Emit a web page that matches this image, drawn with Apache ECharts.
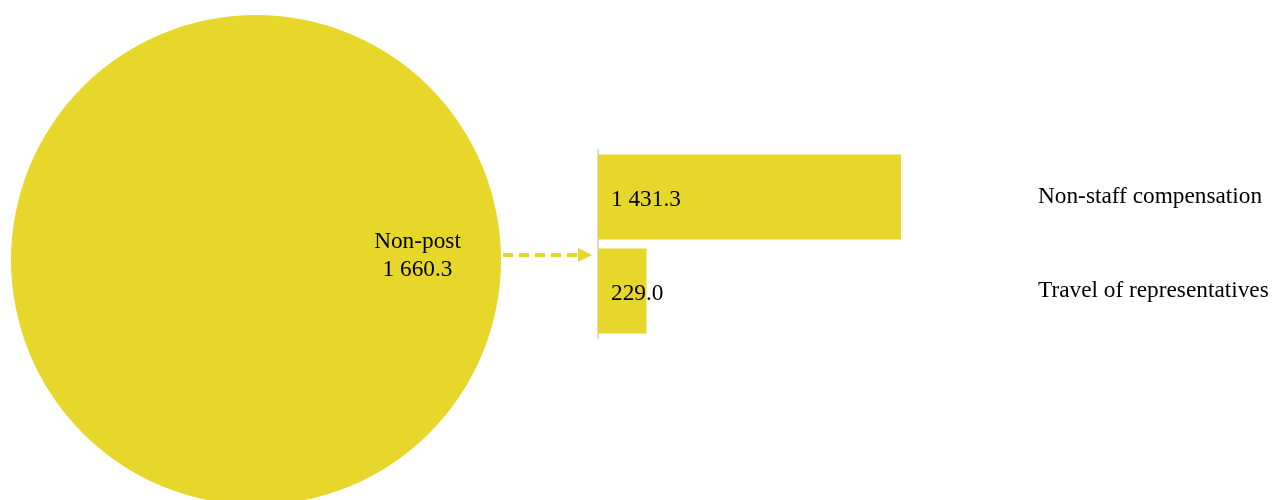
<!DOCTYPE html>
<html><head><meta charset="utf-8">
<script src="https://cdn.jsdelivr.net/npm/echarts@6/dist/echarts.min.js"></script>
<style>html,body{margin:0;padding:0;background:#fff}#c{width:1272px;height:500px}</style>
</head><body><div id="c"></div>
<script>
const pieName = 'Non-post';
const pieValue = 1660.3;
const categories = ['Non-staff compensation', 'Travel of representatives'];
const values = [1431.3, 229.0];
const COLOR = '#e6d72a';
const FONT = '"Liberation Serif","Times New Roman",serif';
function fmt(v){ const s = v.toFixed(1); const [i,d] = s.split('.'); return i.replace(/\B(?=(\d{3})+(?!\d))/g,' ') + '.' + d; }

const chart = echarts.init(document.getElementById('c'), null, {renderer:'canvas'});
chart.setOption({
  animation:false,
  backgroundColor:'#fff',
  grid:{left:598, right:371, top:150, bottom:162, containLabel:false},
  xAxis:{type:'value', min:0, max:'dataMax', show:false},
  yAxis:[
    {type:'category', data:categories, inverse:true, position:'left',
     axisLine:{show:true, lineStyle:{color:'#d9d9d9', width:2}}, axisTick:{show:false}, axisLabel:{show:false}},
    {type:'category', data:categories, inverse:true, position:'right',
     axisLine:{show:false}, axisTick:{show:false},
     axisLabel:{align:'left', margin:137, color:'#000', fontFamily:FONT, fontSize:23.3, padding:[4,0,0,0]}}
  ],
  series:[
    {type:'pie', center:[256,260], radius:[0,245], startAngle:180, clockwise:true,
     silent:true, itemStyle:{color:COLOR},
     data:[{name:pieName, value:pieValue}],
     label:{show:true, position:'inside', color:'#000', fontFamily:FONT, fontSize:23.3, lineHeight:28,
       formatter: p => p.name + '\n' + fmt(p.value)},
     labelLayout:{dx:36, dy:-4},
     labelLine:{show:false}},
    {type:'bar', yAxisIndex:0, data:values, barWidth:85, itemStyle:{color:COLOR},
     label:{show:true, position:'insideLeft', distance:12, offset:[1,3], color:'#000', fontFamily:FONT, fontSize:23.3,
       formatter: p => fmt(p.value)}}
  ],
  graphic:[
    {type:'line', shape:{x1:503, y1:255, x2:580, y2:255}, style:{stroke:COLOR, lineWidth:4, lineDash:[10,6]}},
    {type:'polygon', shape:{points:[[578,248],[592,255],[578,262]]}, style:{fill:COLOR}}
  ]
});
</script></body></html>
